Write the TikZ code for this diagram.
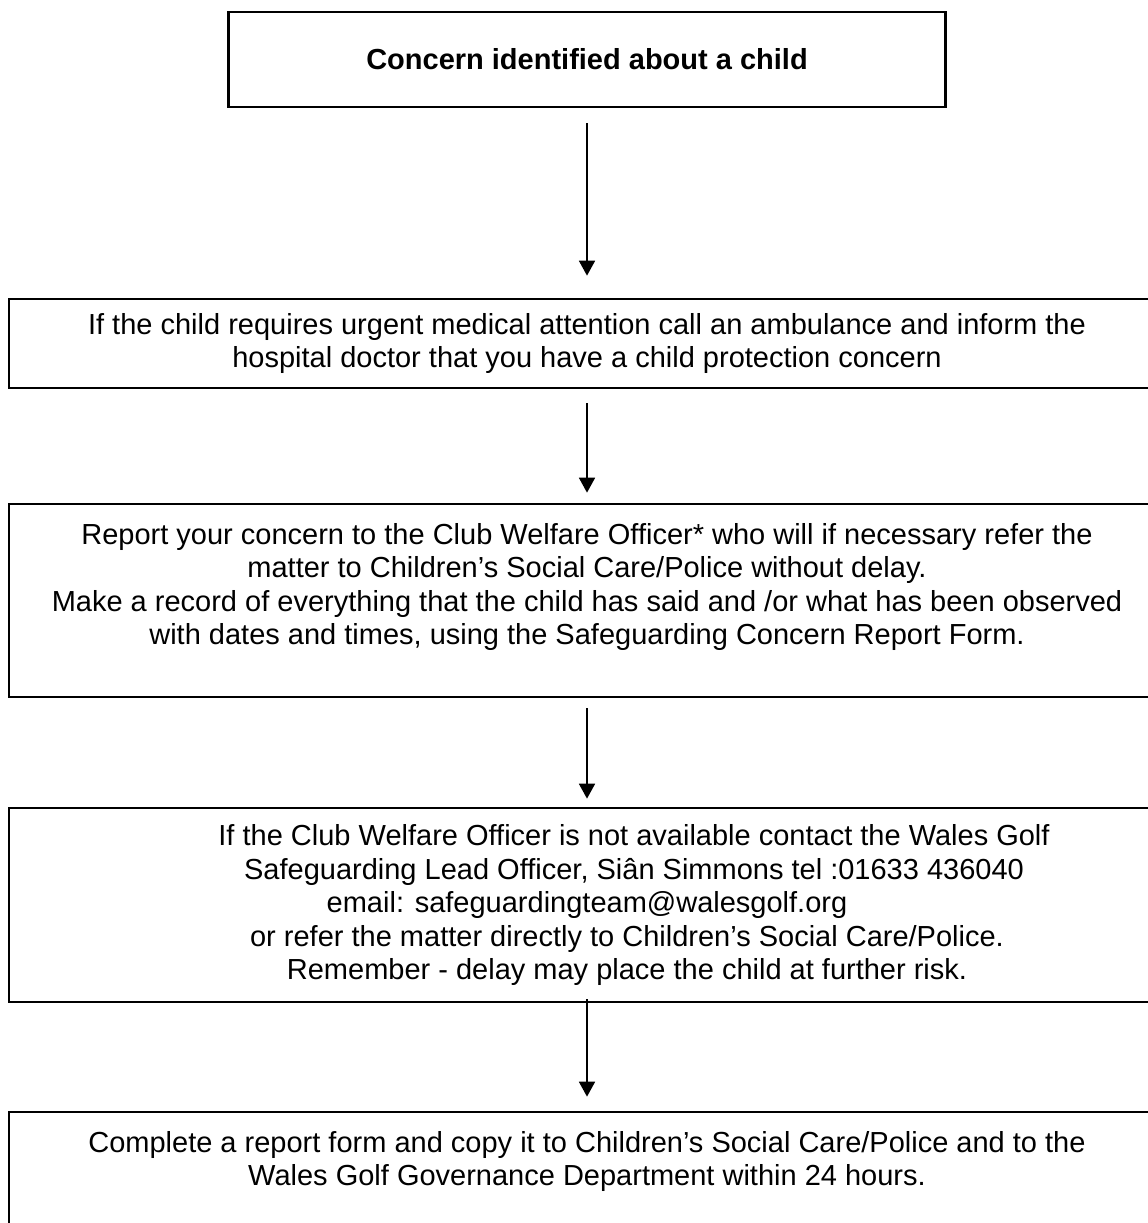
\documentclass[tikz,border=0pt]{standalone}
\usepackage{fontspec}
\setmainfont{Liberation Sans}
\usetikzlibrary{arrows.meta}

\begin{document}
\begin{tikzpicture}
  [
    x=1pt, y=-1pt,
    >={Triangle[length=15pt,width=16pt]},
    box/.style  = {draw, line width=2.7pt, align=center, inner sep=0pt,
                   font=\fontsize{29}{33.5}\selectfont},
    wide/.style = {box, minimum width=1156pt},
    flow/.style = {->, line width=1.8pt},
  ]

%Size of the page
\def \wpage{1148}
\def \hpage{1223}

%Centre line of the flow
\def \xmid{587}

\useasboundingbox (0,0) rectangle (\wpage,\hpage);
\clip (0,0) rectangle (\wpage,\hpage);

%Boxes, the wide ones run off the right edge
\node[box, minimum width=717pt, minimum height=95pt,
      font=\fontsize{29}{33.5}\selectfont\bfseries] (concern) at (\xmid,59.5)
  {Concern identified about a child};

\node[wide, minimum height=89pt] (medical) at (\xmid,343.5)
  {If the child requires urgent medical attention call an ambulance and inform the\\
   hospital doctor that you have a child protection concern};

\node[wide, minimum height=193pt] (report) at (\xmid,600.5)
  {Report your concern to the Club Welfare Officer* who will if necessary refer the\\
   matter to Children’s Social Care/Police without delay.\\
   Make a record of everything that the child has said and /or what has been observed\\
   with dates and times, using the Safeguarding Concern Report Form.\\
   \mbox{}};

\node[wide, minimum height=194pt] (lead) at (\xmid,905)
  {\hspace*{94pt}If the Club Welfare Officer is not available contact the Wales Golf\\
   \hspace*{94pt}Safeguarding Lead Officer, Siân Simmons tel :01633 436040\\
   email: safeguardingteam@walesgolf.org\\
   \hspace*{80pt}or refer the matter directly to Children’s Social Care/Police.\\
   \hspace*{80pt}Remember - delay may place the child at further risk.};

\node[wide, minimum height=126pt] (form) at (\xmid,1175)
  {Complete a report form and copy it to Children’s Social Care/Police and to the\\
   Wales Golf Governance Department within 24 hours.\\
   \mbox{}};

%Arrows
\draw[flow, shorten <=15pt, shorten >=22pt] (concern.south) -- (medical.north);
\draw[flow, shorten <=14pt, shorten >=10pt] (medical.south) -- (report.north);
\draw[flow, shorten <=10pt, shorten >=8pt]  (report.south) -- (lead.north);
\draw[flow, shorten <=-4pt, shorten >=14pt] (lead.south) -- (form.north);

%
\end{tikzpicture}
\end{document}
